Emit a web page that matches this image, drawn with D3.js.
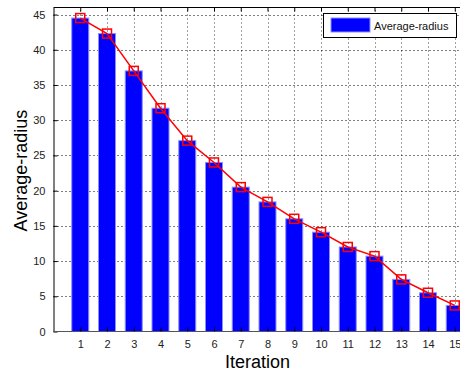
<!DOCTYPE html>
<html>
<head>
<meta charset="utf-8">
<script src="https://cdn.jsdelivr.net/npm/d3@7"></script>
<style>
  body { margin: 0; background: #fff; }
  svg { display: block; font-family: "Liberation Sans", Arial, sans-serif; }
</style>
</head>
<body>
<div class="vis-bar"></div>
<script>
const iterations = [1, 2, 3, 4, 5, 6, 7, 8, 9, 10, 11, 12, 13, 14, 15];
const avgRadius = [44.5, 42.3, 37.0, 31.7, 27.1, 24.0, 20.5, 18.4, 16.0, 14.1, 12.0, 10.7, 7.4, 5.5, 3.7];
const yTicks = [0, 5, 10, 15, 20, 25, 30, 35, 40, 45];
const legendLabel = "Average-radius";

const W = 460, H = 372;
let margin = {top: 7.5, left: 53.5, bottom: 40.5};

let svg = d3.select('.vis-bar')
    .append('svg')
    .attr('width', W)
    .attr('height', H);

let xScale = d3.scaleLinear().domain([0, 16]).range([margin.left, margin.left + 16 * 26.75]);
let yScale = d3.scaleLinear().domain([0, 46]).range([H - margin.bottom, margin.top]);
const x0 = margin.left, x1 = W + 20, yb = yScale(0), yt = margin.top;

// grid lines
let grid = svg.append("g").attr("stroke", "#000").attr("stroke-width", 1)
    .attr("stroke-dasharray", "1,3");
grid.selectAll(".vg").data(iterations).enter().append("line")
    .attr("x1", d => Math.round(xScale(d)) + 0.5).attr("x2", d => Math.round(xScale(d)) + 0.5)
    .attr("y1", yb).attr("y2", yt)
    .attr("stroke-opacity", 0.75);
grid.selectAll(".hg").data(yTicks.slice(1)).enter().append("line")
    .attr("x1", x0).attr("x2", x1)
    .attr("y1", d => Math.round(yScale(d)) + 0.5).attr("y2", d => Math.round(yScale(d)) + 0.5);

// bars
const bw = 17;
svg.selectAll(".bar").data(iterations).enter().append("rect")
    .attr("x", d => xScale(d) - bw / 2)
    .attr("y", (d, i) => yScale(avgRadius[i]))
    .attr("width", bw)
    .attr("height", (d, i) => yScale(0) - yScale(avgRadius[i]))
    .attr("fill", "#0000ff")
    .attr("stroke", "#8c8cff")
    .attr("stroke-width", 1);

// axes
svg.append("g")
    .attr("transform", "translate(" + x0 + ",0)")
    .call(d3.axisLeft(yScale).tickValues(yTicks).tickSizeInner(-4).tickSizeOuter(0).tickPadding(8))
    .call(g => g.select(".domain").attr("stroke", "#000"))
    .style("font-size", "11px")
    .call(g => g.selectAll("text").attr("fill", "#222"));

svg.append("g")
    .attr("transform", "translate(0," + yb + ")")
    .call(d3.axisBottom(xScale).tickValues(iterations).tickSizeInner(-4).tickSizeOuter(0).tickPadding(9))
    .call(g => g.select(".domain").attr("stroke", "#555").attr("d", "M" + x0 + ",0H" + x1))
    .style("font-size", "11px")
    .call(g => g.selectAll("text").attr("fill", "#222"));

// top border with ticks
svg.append("g")
    .attr("transform", "translate(0," + yt + ")")
    .call(d3.axisTop(xScale).tickValues(iterations).tickSizeInner(-4).tickSizeOuter(0).tickFormat(""))
    .call(g => g.select(".domain").attr("stroke", "#000").attr("d", "M" + x0 + ",0H" + x1));

// line with square markers
svg.append("path")
    .datum(iterations)
    .attr("fill", "none")
    .attr("stroke", "#ff0000")
    .attr("stroke-width", 1.5)
    .attr("d", d3.line().x(d => xScale(d)).y((d, i) => yScale(avgRadius[i])));

svg.selectAll(".mk").data(iterations).enter().append("rect")
    .attr("x", d => xScale(d) - 4.5)
    .attr("y", (d, i) => yScale(avgRadius[i]) - 4.5)
    .attr("width", 9).attr("height", 9)
    .attr("fill", "none")
    .attr("stroke", "#ff0000")
    .attr("stroke-width", 1.5);

// legend
let lg = svg.append("g");
lg.append("rect").attr("x", 323.5).attr("y", 13.5).attr("width", 133).attr("height", 24)
    .attr("fill", "#fff").attr("stroke", "#000");
lg.append("rect").attr("x", 331).attr("y", 18).attr("width", 39).attr("height", 14)
    .attr("fill", "#0000ff").attr("stroke", "#8c8cff");
lg.append("text").attr("x", 374).attr("y", 29.5).text(legendLabel)
    .style("font-size", "11px").attr("fill", "#111");

// axis labels
svg.append("text")
    .attr("x", 257.5).attr("y", 368)
    .attr("text-anchor", "middle")
    .style("font-size", "18px")
    .text("Iteration");

svg.append("text")
    .attr("transform", "translate(27,170.5) rotate(-90)")
    .attr("text-anchor", "middle")
    .style("font-size", "18px")
    .text("Average-radius");
</script>
</body>
</html>
